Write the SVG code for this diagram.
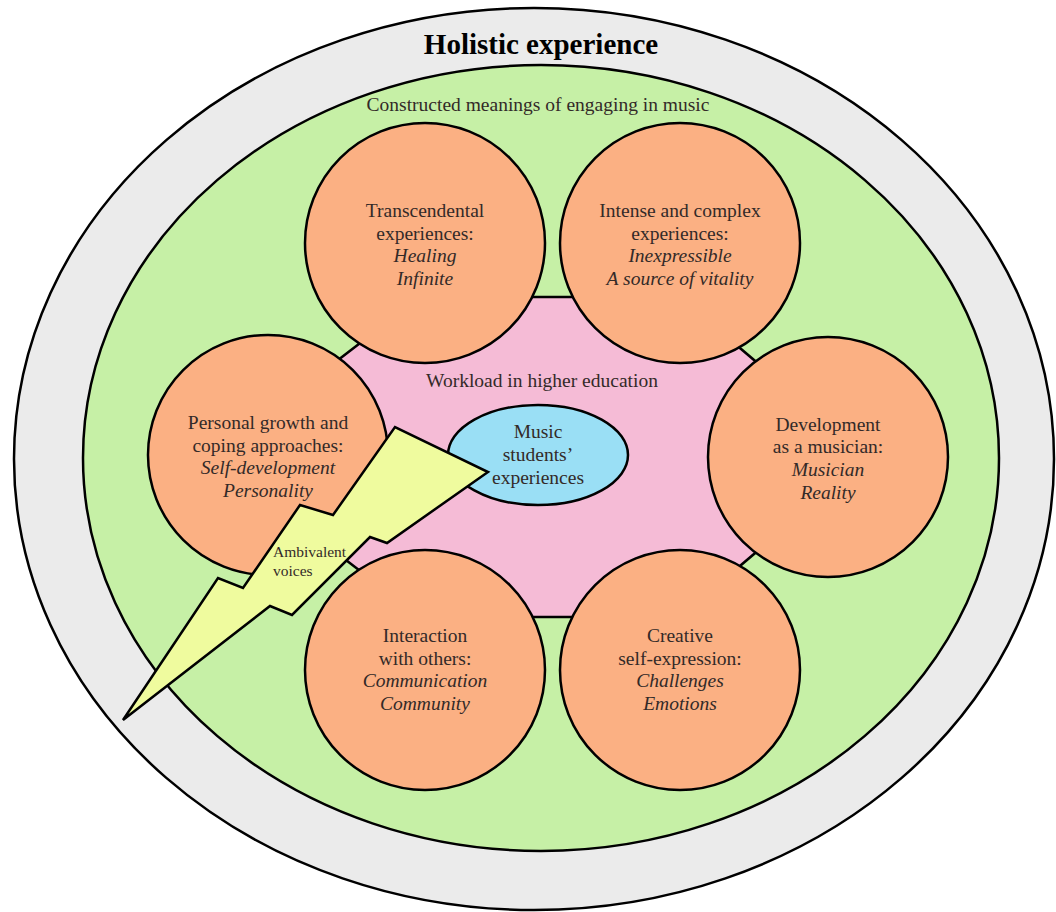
<svg xmlns="http://www.w3.org/2000/svg" width="1056" height="912" viewBox="0 0 1056 912">
<style>
.ln{stroke:#000;stroke-width:2.5}
.t{font-family:"Liberation Serif","Times New Roman",serif;font-size:19.5px;fill:#332a28;text-anchor:middle}
.i{font-style:italic}
.c{fill:#FBB083}
</style>
<rect width="1056" height="912" fill="#fff"/>
<g id="holistic">
<ellipse cx="534" cy="459" rx="520" ry="451" fill="#EBEBEB" class="ln"/>
<text x="541" y="54" class="t" style="font-size:29px;font-weight:bold;fill:#000">Holistic experience</text>
</g>
<g id="constructed">
<ellipse cx="541" cy="458" rx="458" ry="393" fill="#C6F0A6" class="ln"/>
<text x="538" y="111" class="t">Constructed meanings of engaging in music</text>
</g>
<g id="workload">
<polygon points="420,297 680,297 868,457 680,617 420,617 212,457" fill="#F5BBD6" class="ln"/>
<text x="542" y="387" class="t">Workload in higher education</text>
</g>
<g id="transcendental">
<circle cx="425" cy="243" r="120" class="c ln"/>
<text class="t" x="425" y="217">Transcendental</text>
<text class="t" x="425" y="240">experiences:</text>
<text class="t i" x="425" y="262">Healing</text>
<text class="t i" x="425" y="285">Infinite</text>
</g>
<g id="intense">
<circle cx="680" cy="243" r="120" class="c ln"/>
<text class="t" x="680" y="217">Intense and complex</text>
<text class="t" x="680" y="240">experiences:</text>
<text class="t i" x="680" y="262">Inexpressible</text>
<text class="t i" x="680" y="285">A source of vitality</text>
</g>
<g id="personal">
<circle cx="268" cy="455" r="120" class="c ln"/>
<text class="t" x="268" y="429">Personal growth and</text>
<text class="t" x="268" y="452">coping approaches:</text>
<text class="t i" x="268" y="474">Self-development</text>
<text class="t i" x="268" y="497">Personality</text>
</g>
<g id="development">
<circle cx="828" cy="457" r="120" class="c ln"/>
<text class="t" x="828" y="431">Development</text>
<text class="t" x="828" y="453">as a musician:</text>
<text class="t i" x="828" y="476">Musician</text>
<text class="t i" x="828" y="499">Reality</text>
</g>
<g id="interaction">
<circle cx="425" cy="670" r="120" class="c ln"/>
<text class="t" x="425" y="642">Interaction</text>
<text class="t" x="425" y="665">with others:</text>
<text class="t i" x="425" y="687">Communication</text>
<text class="t i" x="425" y="710">Community</text>
</g>
<g id="creative">
<circle cx="680" cy="670" r="120" class="c ln"/>
<text class="t" x="680" y="642">Creative</text>
<text class="t" x="680" y="665">self-expression:</text>
<text class="t i" x="680" y="687">Challenges</text>
<text class="t i" x="680" y="710">Emotions</text>
</g>
<g id="music-students">
<ellipse cx="538" cy="455" rx="90" ry="50" fill="#9ADFF5" class="ln"/>
<text class="t" x="538" y="438">Music</text>
<text class="t" x="538" y="461">students’</text>
<text class="t" x="538" y="484">experiences</text>
</g>
<g id="ambivalent">
<polygon points="123,720 218,578 243,588 300,505 333,515 395,427 488,472 387,543 370,537 292,615 270,606" fill="#EFFB9E" class="ln" stroke-linejoin="miter"/>
<text class="t" x="273" y="557" style="font-size:15.5px;text-anchor:start">Ambivalent</text>
<text class="t" x="273" y="576" style="font-size:15.5px;text-anchor:start">voices</text>
</g>
</svg>
